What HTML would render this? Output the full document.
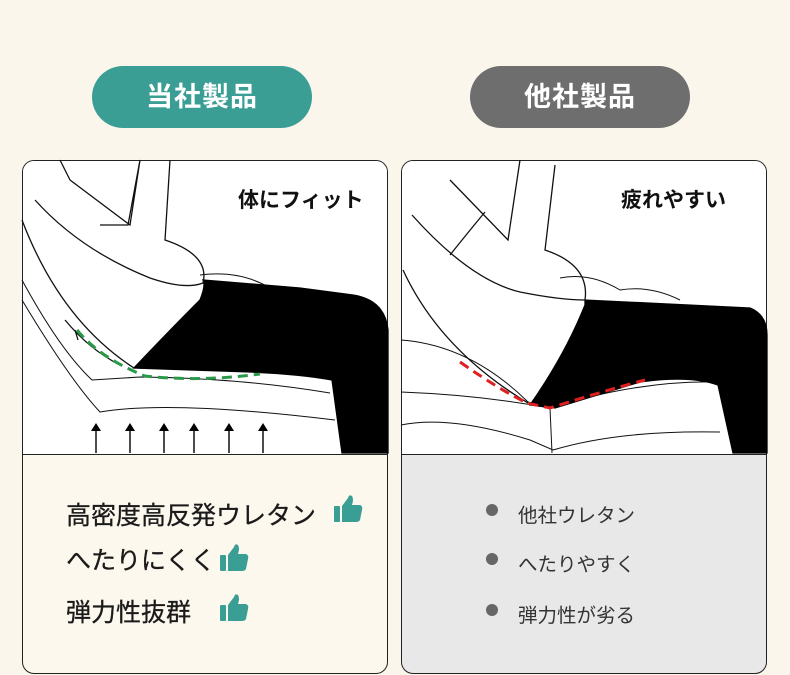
<!DOCTYPE html>
<html><head><meta charset="utf-8"><style>
body{margin:0;width:790px;height:675px;background:#faf6ec;font-family:"Liberation Sans","Noto Sans CJK JP",sans-serif;position:relative;overflow:hidden}
.pill{position:absolute;top:66px;width:220px;height:62px;border-radius:31px;color:#fff;font-size:27px;font-weight:bold;text-align:center;line-height:62px;letter-spacing:1px}
.card{position:absolute;top:160px;width:364px;height:512px;border:1px solid #222;border-radius:12px;overflow:hidden}
.t{position:absolute;font-size:25px;color:#1a1a1a;left:43px;-webkit-text-stroke:0.3px #1a1a1a}
.r{position:absolute;font-size:19.5px;color:#333;left:116px}
.dot{position:absolute;left:84px;width:12px;height:12px;border-radius:6px;background:#666}
</style></head><body>
<div class="pill" style="left:92px;background:#3a9e94">当社製品</div>
<div class="pill" style="left:470px;background:#6e6e6e">他社製品</div>
<div class="card" style="left:22px;background:#fdf8ee">
<div style="position:absolute;left:0;top:0;width:364px;height:293px;background:#fff;border-bottom:1px solid #222"></div>
<div class="t" style="top:335px">高密度高反発ウレタン</div>
<div class="t" style="top:380px">へたりにくく</div>
<div class="t" style="top:432px">弾力性抜群</div>
</div>
<div class="card" style="left:401px;background:#e8e8e8">
<div style="position:absolute;left:0;top:0;width:364px;height:293px;background:#fff;border-bottom:1px solid #222"></div>
<div class="dot" style="top:343px"></div><div class="r" style="top:338px">他社ウレタン</div>
<div class="dot" style="top:392px"></div><div class="r" style="top:387px">へたりやすく</div>
<div class="dot" style="top:443px"></div><div class="r" style="top:438px">弾力性が劣る</div>
</div>
<svg width="790" height="675" style="position:absolute;left:0;top:0" fill="none" stroke="#111" stroke-width="1.3">
<g>
<path d="M22 280 Q60 350 92 380 L140 377 Q240 378 330 393" stroke-width="1"/>
<path d="M22 300 Q70 380 100 412 Q170 400 335 420" stroke-width="1"/>
<path d="M200 275 Q240 270 270 288" stroke-width="1"/>
<path d="M134 368 Q170 330 200 300 Q206 285 203 280 L300 288 L353 295 Q385 300 388 330 L388 453 L342 453 L332 380 Q300 374 250 372 Z" fill="#000" stroke="#000"/>
<path d="M22 220 Q60 320 134 368"/>
<path d="M35 200 Q80 250 150 278 Q185 290 203 283 Q210 255 165 240 L170 160"/>
<path d="M70 180 L130 225 L140 160 M70 180 L60 160 M140 160 L128 225 L100 225"/>
<path d="M75 330 L78 340 M65 320 Q90 350 120 365"/>
<path d="M77 330 Q100 358 145 376 Q200 382 260 374" stroke="#2a9a4a" stroke-width="3" stroke-dasharray="10 6"/>
<g stroke-width="1.5">
<path d="M96 453V427 M130 453V427 M164 453V427 M194 453V427 M229 453V427 M263 453V427"/>
</g>
<g fill="#000" stroke="none">
<path d="M96 423l-5 8h10z M130 423l-5 8h10z M164 423l-5 8h10z M194 423l-5 8h10z M229 423l-5 8h10z M263 423l-5 8h10z"/>
</g>
</g>
<g>
<path d="M401 340 Q470 345 528 402 L550 408 Q640 380 718 382" stroke-width="1"/>
<path d="M401 392 Q480 395 550 408 L552 453" stroke-width="1"/>
<path d="M401 425 Q450 415 530 440 L553 450 Q620 430 720 432" stroke-width="1"/>
<path d="M560 278 Q590 272 620 290 Q650 285 680 300" stroke-width="1"/>
<path d="M530 405 Q565 355 585 305 L585 300 L750 308 Q767 315 767 335 L767 453 L733 453 L718 385 Q690 375 640 382 L555 408 Z" fill="#000" stroke="#000"/>
<path d="M403 270 Q440 350 528 403"/>
<path d="M412 215 Q470 280 520 292 Q560 300 585 300 Q590 265 545 250 L555 165"/>
<path d="M450 180 L508 240 L520 160 M450 255 Q470 230 485 212"/>
<path d="M460 362 Q500 390 527 403 L550 408 Q600 392 645 380" stroke="#e02020" stroke-width="3" stroke-dasharray="10 6"/>
</g>
</svg>
<div style="position:absolute;left:238px;top:184px;font-size:21px;font-weight:bold;color:#111">体にフィット</div>
<div style="position:absolute;left:621px;top:184px;font-size:21px;font-weight:bold;color:#111">疲れやすい</div>
<svg width="790" height="675" style="position:absolute;left:0;top:0" fill="#3a9e94">
<g transform="translate(334,494)"><rect x="0" y="12" width="6" height="16" rx="1"/><path d="M8 12 L14 4 Q15 0 18 2 Q20 5 18 11 L26 11 Q29 12 28 16 L26 26 Q25 28 22 28 L8 28Z"/></g>
<g transform="translate(220,543)"><rect x="0" y="12" width="6" height="16" rx="1"/><path d="M8 12 L14 4 Q15 0 18 2 Q20 5 18 11 L26 11 Q29 12 28 16 L26 26 Q25 28 22 28 L8 28Z"/></g>
<g transform="translate(220,593)"><rect x="0" y="12" width="6" height="16" rx="1"/><path d="M8 12 L14 4 Q15 0 18 2 Q20 5 18 11 L26 11 Q29 12 28 16 L26 26 Q25 28 22 28 L8 28Z"/></g>
</svg>
</body></html>
